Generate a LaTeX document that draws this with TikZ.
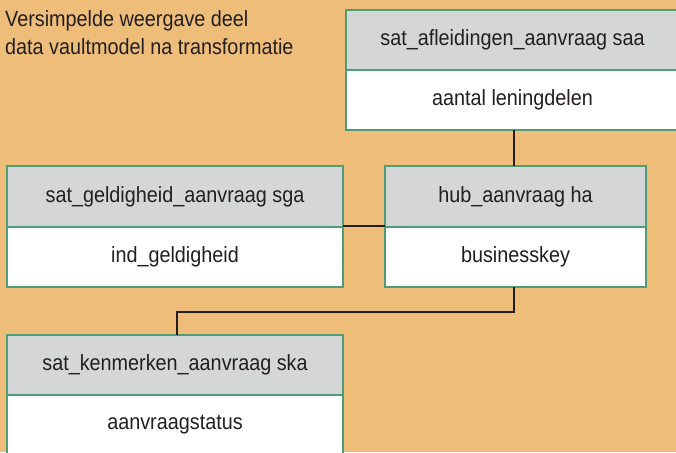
\documentclass[tikz,border=0pt]{standalone}
\usepackage{fontspec}
\setmainfont{Liberation Sans}[FakeStretch=0.9]
\definecolor{bgc}{HTML}{EEBD79}
\definecolor{boxg}{HTML}{4F9C78}
\definecolor{headg}{HTML}{D5D6D8}
\definecolor{txt}{HTML}{231F20}
\tikzset{
  tblhead/.style={draw=boxg, line width=2.7pt, fill=headg, outer sep=0pt, inner sep=0pt,
    minimum height=60pt, text=txt, font=\fontsize{22}{28}\selectfont},
  tblbody/.style={tblhead, fill=white},
  link/.style={draw=txt, line width=2pt}
}
\begin{document}
\begin{tikzpicture}[x=1pt,y=-1pt]
\useasboundingbox (0,0) rectangle (676,452);
\fill[bgc] (0,0) rectangle (676,452);
\begin{scope}
\clip (0,0) rectangle (676,452);
\node[anchor=north west, inner sep=0pt, align=left, text=txt, font=\fontsize{22}{28}\selectfont, text depth=0pt] (title) at (5,10)
  {Versimpelde weergave deel\\data vaultmodel na transformatie};
\coordinate (hubtop) at (514,166);
\node[tblhead, minimum width=333pt, anchor=north west] (ah) at (346,10) {sat\_afleidingen\_aanvraag saa};
\node[tblbody, minimum width=333pt, anchor=north] (ab) at (ah.south) {aantal leningdelen};
\node[tblhead, minimum width=336pt, minimum height=61pt, anchor=north west] (gh) at (7,166) {sat\_geldigheid\_aanvraag sga};
\node[tblbody, minimum width=336pt, anchor=north] (gb) at (gh.south) {ind\_geldigheid};
\node[tblhead, minimum width=261pt, minimum height=61pt, anchor=north west] (hh) at (385,166) {hub\_aanvraag ha};
\node[tblbody, minimum width=261pt, anchor=north] (hb) at (hh.south) {businesskey};
\node[tblhead, minimum width=336pt, anchor=north west] (kh) at (7,335) {sat\_kenmerken\_aanvraag ska};
\node[tblbody, minimum width=336pt, anchor=north] (kb) at (kh.south) {aanvraagstatus};
\draw[link] (ab.south -| hubtop) -- (hubtop);
\draw[link] ([yshift=1pt]gb.north east) -- ([yshift=1pt]hb.north west);
\coordinate (hubbot) at (514,287);
\coordinate (skatop) at (177,335);
\draw[link] (hubbot) -- ++(0,25) -| (skatop);
\end{scope}
\end{tikzpicture}
\end{document}
